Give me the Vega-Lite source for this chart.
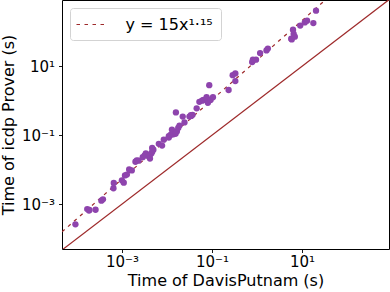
{
  "$schema": "https://vega.github.io/schema/vega-lite/v6.json",
  "width": 327,
  "height": 249,
  "autosize": {"type": "none"},
  "padding": {"left": 62, "top": 0, "right": 1, "bottom": 43},
  "config": {
    "font": "DejaVu Sans",
    "view": {"stroke": "#000000", "strokeWidth": 1},
    "axis": {
      "grid": false,
      "domain": false,
      "tickColor": "#000000",
      "tickSize": 3.5,
      "tickWidth": 0.9,
      "labelFont": "DejaVu Sans",
      "labelFontSize": 15,
      "labelColor": "#000000",
      "titleFont": "DejaVu Sans",
      "titleFontSize": 16,
      "titleFontWeight": "normal",
      "titleColor": "#000000"
    },
    "legend": {
      "orient": "top-left",
      "offset": 8,
      "padding": 7.5,
      "strokeColor": "#d3d3d3",
      "fillColor": "#ffffff",
      "cornerRadius": 3,
      "labelFont": "DejaVu Sans",
      "labelFontSize": 16,
      "labelColor": "#000000",
      "labelOffset": 24,
      "symbolType": "M-2,0H2",
      "symbolSize": 256,
      "symbolOffset": 6,
      "symbolStrokeWidth": 1.2
    }
  },
  "layer": [
    {
      "data": {"values": [{"x": 0.00001, "y": 0.00001}, {"x": 10000, "y": 10000}]},
      "mark": {"type": "line", "color": "#9e2a2b", "strokeWidth": 1.2, "clip": true},
      "encoding": {
        "x": {"field": "x", "type": "quantitative", "scale": {"type": "log", "domain": [0.0000468, 851], "nice": false}},
        "y": {"field": "y", "type": "quantitative", "scale": {"type": "log", "domain": [0.0000501, 832], "nice": false}}
      }
    },
    {
      "data": {"values": [{"x": 0.0000468, "y": 0.0001573, "label": "y = 15x¹·¹⁵"}, {"x": 100, "y": 2993, "label": "y = 15x¹·¹⁵"}]},
      "mark": {"type": "line", "strokeWidth": 1.2, "clip": true},
      "encoding": {
        "x": {"field": "x", "type": "quantitative", "scale": {"type": "log", "domain": [0.0000468, 851], "nice": false}},
        "y": {"field": "y", "type": "quantitative", "scale": {"type": "log", "domain": [0.0000501, 832], "nice": false}},
        "color": {"field": "label", "type": "nominal", "scale": {"range": ["#9e2a2b"]}, "legend": {"title": null}},
        "strokeDash": {"field": "label", "type": "nominal", "scale": {"range": [[3.5, 4.5]]}, "legend": {"title": null}}
      }
    },
    {
      "data": {"values": [
        {"x": 0.000093, "y": 0.00026},
        {"x": 0.00017, "y": 0.00072},
        {"x": 0.000186, "y": 0.00065},
        {"x": 0.00019, "y": 0.00068},
        {"x": 0.00026, "y": 0.00069},
        {"x": 0.00035, "y": 0.00126},
        {"x": 0.00038, "y": 0.00138},
        {"x": 0.00065, "y": 0.0029},
        {"x": 0.00066, "y": 0.0041},
        {"x": 0.001, "y": 0.0049},
        {"x": 0.0011, "y": 0.0042},
        {"x": 0.00117, "y": 0.0068},
        {"x": 0.00129, "y": 0.0072},
        {"x": 0.00145, "y": 0.0102},
        {"x": 0.00166, "y": 0.0095},
        {"x": 0.002, "y": 0.017},
        {"x": 0.00214, "y": 0.0186},
        {"x": 0.00234, "y": 0.0182},
        {"x": 0.0029, "y": 0.023},
        {"x": 0.0032, "y": 0.026},
        {"x": 0.0034, "y": 0.0295},
        {"x": 0.0039, "y": 0.0245},
        {"x": 0.0042, "y": 0.021},
        {"x": 0.0042, "y": 0.027},
        {"x": 0.0045, "y": 0.0295},
        {"x": 0.0047, "y": 0.0427},
        {"x": 0.0047, "y": 0.033},
        {"x": 0.005, "y": 0.038},
        {"x": 0.0066, "y": 0.056},
        {"x": 0.0078, "y": 0.05},
        {"x": 0.0085, "y": 0.074},
        {"x": 0.011, "y": 0.093},
        {"x": 0.011, "y": 0.085},
        {"x": 0.012, "y": 0.102},
        {"x": 0.0129, "y": 0.145},
        {"x": 0.0135, "y": 0.105},
        {"x": 0.0138, "y": 0.12},
        {"x": 0.0155, "y": 0.11},
        {"x": 0.0158, "y": 0.457},
        {"x": 0.0166, "y": 0.129},
        {"x": 0.0178, "y": 0.162},
        {"x": 0.019, "y": 0.19},
        {"x": 0.0224, "y": 0.347},
        {"x": 0.0245, "y": 0.234},
        {"x": 0.0316, "y": 0.347},
        {"x": 0.034, "y": 0.38},
        {"x": 0.0347, "y": 0.363},
        {"x": 0.037, "y": 0.39},
        {"x": 0.0457, "y": 0.6},
        {"x": 0.0525, "y": 0.93},
        {"x": 0.06, "y": 1.0},
        {"x": 0.0646, "y": 1.05},
        {"x": 0.0759, "y": 1.26},
        {"x": 0.079, "y": 1.1},
        {"x": 0.081, "y": 0.87},
        {"x": 0.087, "y": 2.82},
        {"x": 0.093, "y": 1.05},
        {"x": 0.105, "y": 1.26},
        {"x": 0.234, "y": 2.04},
        {"x": 0.288, "y": 5.5},
        {"x": 0.33, "y": 6.2},
        {"x": 0.33, "y": 3.7},
        {"x": 0.78, "y": 13.2},
        {"x": 0.81, "y": 15.5},
        {"x": 0.95, "y": 15.5},
        {"x": 1.17, "y": 24},
        {"x": 1.62, "y": 28.8},
        {"x": 1.74, "y": 32.4},
        {"x": 5.75, "y": 63},
        {"x": 5.9, "y": 60},
        {"x": 6.3, "y": 115},
        {"x": 6.5, "y": 87},
        {"x": 6.9, "y": 72},
        {"x": 9.1, "y": 151},
        {"x": 11.5, "y": 186},
        {"x": 12.9, "y": 209},
        {"x": 17.8, "y": 178},
        {"x": 20.4, "y": 407}
      ]},
      "mark": {"type": "point", "filled": true, "shape": "circle", "size": 40, "color": "#8e44ad", "opacity": 1},
      "encoding": {
        "x": {
          "field": "x", "type": "quantitative",
          "scale": {"type": "log", "domain": [0.0000468, 851], "nice": false},
          "axis": {
            "title": "Time of DavisPutnam (s)",
            "values": [0.001, 0.1, 10],
            "labelExpr": "datum.value < 0.01 ? '10⁻³' : datum.value < 1 ? '10⁻¹' : '10¹'",
            "labelBaseline": "alphabetic",
            "labelPadding": 13.5,
            "titleBaseline": "alphabetic",
            "titleY": 36
          }
        },
        "y": {
          "field": "y", "type": "quantitative",
          "scale": {"type": "log", "domain": [0.0000501, 832], "nice": false},
          "axis": {
            "title": "Time of icdp Prover (s)",
            "values": [0.001, 0.1, 10],
            "labelExpr": "datum.value < 0.01 ? '10⁻³' : datum.value < 1 ? '10⁻¹' : '10¹'",
            "labelPadding": 4,
            "labelBaseline": "middle",
            "titleBaseline": "alphabetic",
            "titleX": -49
          }
        }
      }
    }
  ]
}
